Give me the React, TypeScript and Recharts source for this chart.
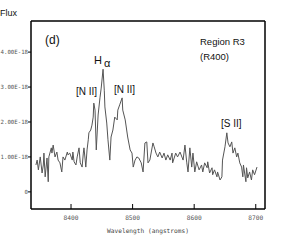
import React from 'react';
import { LineChart, Line, XAxis, YAxis } from 'recharts';

// wavelength in angstroms, flux in units of 1e-18
const wavelength = [
  8343, 8345, 8347, 8350, 8353, 8355, 8356, 8358, 8361, 8363, 8364, 8368, 8369, 8371, 8374, 8377,
  8379, 8382, 8385, 8387, 8390, 8394, 8395, 8398, 8402, 8403, 8405, 8408, 8410, 8413, 8415, 8418,
  8420, 8421, 8423, 8424, 8426, 8428, 8429, 8432, 8434, 8436, 8437, 8439, 8441, 8444, 8447, 8449,
  8452, 8454, 8455, 8458, 8460, 8463, 8465, 8468, 8471, 8475, 8476, 8479, 8483, 8484, 8488, 8492,
  8496, 8499, 8501, 8504, 8507, 8510, 8514, 8517, 8520, 8523, 8525, 8528, 8533, 8535, 8538, 8541,
  8544, 8548, 8551, 8554, 8557, 8561, 8564, 8565, 8570, 8573, 8577, 8582, 8585, 8588, 8590, 8593,
  8596, 8598, 8601, 8604, 8608, 8612, 8614, 8617, 8621, 8622, 8625, 8629, 8630, 8633, 8637, 8638,
  8642, 8645, 8646, 8650, 8653, 8655, 8658, 8661, 8663, 8666, 8669, 8671, 8674, 8677, 8679, 8680,
  8684, 8685, 8687, 8690, 8693, 8695, 8698, 8702,
];
const flux = [
  0.77, 0.91, 0.63, 1.0, 0.54, 0.77, 1.11, 0.43, 0.97, 0.29, 1.0, 1.26, 1.11, 1.34, 1.0, 1.14,
  0.91, 0.83, 0.57, 1.0, 0.91, 1.14, 1.06, 1.11, 0.91, 1.14, 0.86, 0.77, 1.0, 1.26, 0.83, 0.71,
  1.11, 1.26, 0.91, 0.71, 1.2, 1.49, 1.69, 1.77, 1.91, 2.14, 2.54, 2.34, 1.2, 2.2, 2.69, 2.97,
  3.51, 2.91, 2.43, 1.97, 1.49, 0.91, 1.57, 1.77, 2.14, 2.06, 2.34, 2.49, 2.69, 2.34, 2.06, 1.57,
  1.2, 1.11, 0.71, 0.91, 1.0, 0.97, 0.83, 0.57, 1.4, 1.43, 0.83, 0.91, 1.4, 1.29, 1.11, 1.0,
  1.14, 0.97, 1.11, 0.91, 1.06, 0.91, 1.11, 0.83, 1.11, 1.0, 1.14, 0.91, 1.34, 0.83, 0.57, 1.26,
  0.71, 1.11, 0.57, 0.86, 0.63, 0.77, 0.57, 0.83, 0.69, 0.86, 0.54, 0.69, 0.49, 0.63, 0.43, 0.57,
  0.34, 0.43, 0.91, 1.29, 1.69, 1.4, 1.29, 1.43, 1.11, 1.26, 1.0, 1.11, 0.83, 0.71, 0.43, 0.77,
  0.29, 0.69, 0.4, 0.57, 0.34, 0.63, 0.49, 0.71,
];
const xTicks = [8400, 8500, 8600, 8700];
const yTicks = [0, 1, 2, 3, 4];

const data = wavelength.map((w, i) => ({ w, f: flux[i] }));

const tickFont = { fontSize: 6.2, fontFamily: 'DejaVu Sans Mono', fill: '#555' };
const yTickFont = { fontSize: 5.7, fontFamily: 'DejaVu Sans Mono', fill: '#555' };
const labelFont = 'Liberation Sans, Arial, sans-serif';

const fmtFlux = (v: number) => (v === 0 ? '0' : `${v.toFixed(2)}E-18`);

export default function App() {
  return (
    <div style={{ position: 'absolute', left: 0, top: 0, width: 300, height: 244, background: '#fff' }}>
      <LineChart width={300} height={244} data={data} margin={{ top: 11, right: 25, bottom: 0, left: 0 }}>
        <XAxis
          dataKey="w"
          type="number"
          domain={[8335, 8715]}
          ticks={xTicks}
          height={35}
          tickSize={-5}
          tickMargin={12}
          tick={tickFont}
          axisLine={{ stroke: '#000', strokeWidth: 1.5 }}
          tickLine={{ stroke: '#000' }}
          label={{ value: 'Wavelength (angstroms)', position: 'insideBottom', offset: 11, style: { ...tickFont, fill: '#444' } }}
        />
        <XAxis
          xAxisId="top"
          orientation="top"
          dataKey="w"
          type="number"
          domain={[8335, 8715]}
          ticks={xTicks}
          height={10}
          tickSize={-5}
          tick={false}
          axisLine={{ stroke: '#000', strokeWidth: 1.5 }}
          tickLine={{ stroke: '#000' }}
        />
        <YAxis
          type="number"
          domain={[-0.49, 4.89]}
          ticks={yTicks}
          width={31}
          tickSize={3}
          tickMargin={0}
          tick={yTickFont}
          tickFormatter={fmtFlux}
          axisLine={{ stroke: '#000', strokeWidth: 1.5 }}
          tickLine={{ stroke: '#000' }}
        />
        <YAxis
          yAxisId="right"
          orientation="right"
          type="number"
          domain={[-0.49, 4.89]}
          ticks={yTicks}
          width={10}
          tickSize={-4}
          tick={false}
          axisLine={{ stroke: '#000', strokeWidth: 1.5 }}
          tickLine={{ stroke: '#000' }}
        />
        <Line
          type="linear"
          dataKey="f"
          stroke="#555"
          strokeWidth={1}
          dot={false}
          activeDot={false}
          isAnimationActive={false}
        />
      </LineChart>
      <svg width={300} height={244} style={{ position: 'absolute', left: 0, top: 0, pointerEvents: 'none' }}>
        <g fontFamily={labelFont} fill="#111">
          <text x={0} y={16} fontSize={9}>Flux</text>
          <text x={45} y={44} fontSize={12}>(d)</text>
          <text x={94} y={64} fontSize={11}>
            H<tspan dx={2} dy={3}>α</tspan>
          </text>
          <text x={76} y={95} fontSize={10}>[N II]</text>
          <text x={114} y={93} fontSize={10}>[N II]</text>
          <text x={200} y={45} fontSize={9.5}>Region R3</text>
          <text x={200} y={60} fontSize={9.5}>(R400)</text>
          <text x={221} y={127} fontSize={10}>[S II]</text>
        </g>
      </svg>
    </div>
  );
}
